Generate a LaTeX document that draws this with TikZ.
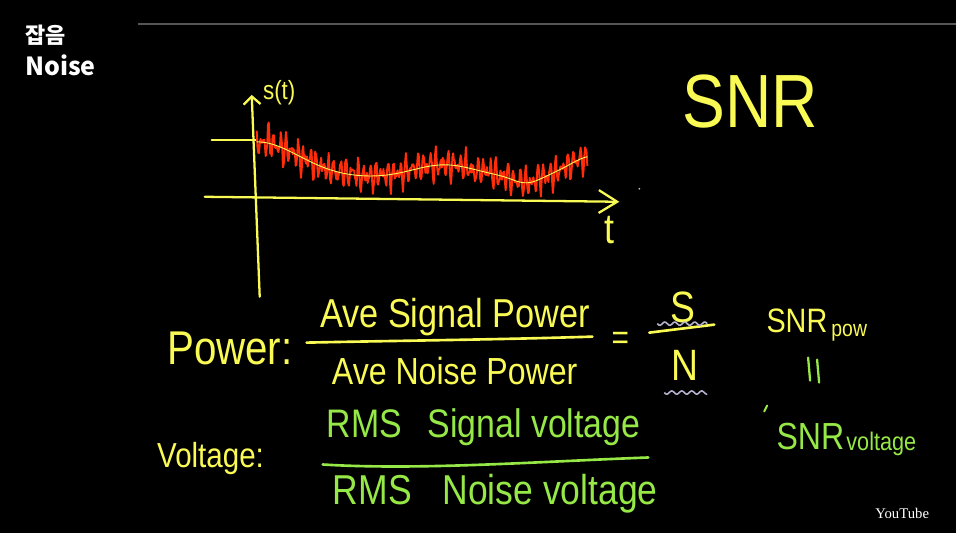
\documentclass[tikz,border=0pt]{standalone}
\usepackage{fontspec}
\usepackage{xcolor}
\usepackage{tikz}
\usetikzlibrary{arrows.meta,positioning,calc}

\newfontfamily\handfont{Liberation Sans}[FakeStretch=0.85]
\newfontfamily\hangulfont{Noto Sans CJK KR}
\newfontfamily\ytfont{Liberation Serif}
\newcommand{\handsize}[1]{\handfont\fontsize{#1}{#1}\selectfont}

\definecolor{chalkyellow}{RGB}{250,250,85}
\definecolor{chalkgreen}{RGB}{150,232,70}
\definecolor{noisered}{RGB}{255,45,10}
\definecolor{wavegray}{RGB}{180,178,205}
\definecolor{rulegray}{RGB}{85,85,85}

\begin{document}
\begin{tikzpicture}[x=0.02cm, y=-0.02cm,
  declare function={
    meanline(\u)=178-36*exp(-((\u-257)/60)*((\u-257)/60))
      -13*exp(-((\u-445)/45)*((\u-445)/45))
      +6*exp(-((\u-527)/18)*((\u-527)/18))
      -22*exp(-((\u-595)/35)*((\u-595)/35));
  }]

% Styles for the blackboard writing
\tikzstyle{handtext}=[inner sep=0pt, anchor=base west]
\tikzstyle{yellowtext}=[handtext, text=chalkyellow]
\tikzstyle{greentext}=[handtext, text=chalkgreen]
\tikzstyle{chalk}=[draw=chalkyellow, line width=1.5pt, line cap=round]
\tikzstyle{greenchalk}=[draw=chalkgreen, line width=1.5pt, line cap=round]
\tikzstyle{wavy}=[draw=wavegray, line width=0.9pt]

% Board
\fill[black] (0,0) rectangle (957,534);
\draw[rulegray, line width=1.2pt] (138,24) -- (957,24);

% Title
\node[handtext, text=white, anchor=west] (ko) at (25,35) {\hangulfont\bfseries\fontsize{12.5pt}{12.5pt}\selectfont 잡음};
\node[handtext, text=white] (noise) at (25,76) {\hangulfont\bfseries\fontsize{14.2pt}{14.2pt}\selectfont Noise};

% Axes of the plot
\coordinate (xstart) at (205,197);
\coordinate (xend) at (620,202);
\coordinate (ybot) at (260,297);
\coordinate (ytop) at (252,95);
\coordinate (dc) at (212,140);
\coordinate (dcend) at (257,140);
\draw[chalk, line width=1.3pt, -{Straight Barb[length=4.5pt,width=9.6pt]}] (ybot) -- (ytop);
\draw[chalk, line width=1.3pt, -{Straight Barb[length=10.5pt,width=13pt]}] (xstart) -- (xend);
\draw[chalk, line width=1.3pt] (dc) -- (dcend);
\node[yellowtext] (st) at (263,100) {\handsize{15pt}s(t)};
\node[yellowtext] (tlab) at (605,244) {\handsize{24pt}t};
\fill[wavegray] (640,189) circle (1);

% Noisy signal and its mean
\pgfmathsetseed{7}
\draw[noisered, line width=1.1pt, line join=round]
  plot[domain=257:588, samples=442]
  (\x, {meanline(\x)+14*sin(60*mod(\x,60))*(0.6+0.4*rand)+7*sin(84*mod(\x,30))+3*rand});
\draw[chalkyellow, line width=0.5pt]
  plot[domain=257:588, samples=120, smooth] (\x, {meanline(\x)});

% SNR heading
\node[yellowtext] (snr) at (683,128) {\handsize{43pt}SNR};

% Power ratio
\node[yellowtext] (power) at (167,365) {\handsize{27pt}Power:};
\node[yellowtext] (psig) at (320,328) {\handsize{23pt}Ave Signal Power};
\node[yellowtext] (pnoise) at (332,385) {\handsize{21.5pt}Ave Noise Power};
\coordinate (pbarl) at (307,343);
\coordinate (pbarr) at (593,337);
\draw[chalk] (pbarl) .. controls (400,341) and (500,340) .. (pbarr);
\node[text=chalkyellow, inner sep=0pt] (eq) at (621,341) {\handsize{20pt}=};

% S over N
\node[text=chalkyellow, inner sep=0pt] (sS) at (684,308) {\handsize{25pt}S};
\node[text=chalkyellow, inner sep=0pt] (sN) at (686,366) {\handsize{25pt}N};
\coordinate (snbarl) at (650,333);
\coordinate (snbarr) at (715,325);
\draw[chalk] (snbarl) -- (snbarr);
\draw[wavy] plot[domain=658:708, samples=60] (\x, {324+1.6*sin(36*(\x-658))});
\draw[wavy] plot[domain=665:708, samples=60] (\x, {393+1.6*sin(36*(\x-665))});

% SNR of power equals SNR of voltage
\node[yellowtext] (snrpow) at (767,333) {\handsize{19.3pt}SNR};
\node[yellowtext] (pow) at (832,337) {\handsize{13pt}pow};
\coordinate (eqa) at (809,358);
\coordinate (eqb) at (811,381);
\coordinate (eqc) at (818,360);
\coordinate (eqd) at (820,383);
\draw[greenchalk, line width=1.3pt] (eqa) -- (eqb);
\draw[greenchalk, line width=1.3pt] (eqc) -- (eqd);
\coordinate (ticka) at (768,406);
\coordinate (tickb) at (765,412);
\draw[greenchalk, line width=1.1pt] (ticka) -- (tickb);
\node[greentext] (snrvolt) at (777,450) {\handsize{21.5pt}SNR};
\node[greentext] (volt) at (847,451) {\handsize{14.5pt}voltage};

% Voltage ratio
\node[yellowtext] (voltage) at (157,468) {\handsize{19.8pt}Voltage:};
\node[greentext] (vsig) at (327,438) {\handsize{22.7pt}RMS\hspace{0.4em} Signal voltage};
\node[greentext] (vnoise) at (333,505) {\handsize{23.8pt}RMS\hspace{0.5em} Noise voltage};
\coordinate (vbarl) at (323,465);
\coordinate (vbarr) at (649,458);
\draw[greenchalk] (vbarl) .. controls (420,471) and (540,462) .. (vbarr);

% Watermark
\node[handtext, text=white] (yt) at (876,519) {\ytfont\fontsize{8.4pt}{8.4pt}\selectfont YouTube};

\end{tikzpicture}
\end{document}
